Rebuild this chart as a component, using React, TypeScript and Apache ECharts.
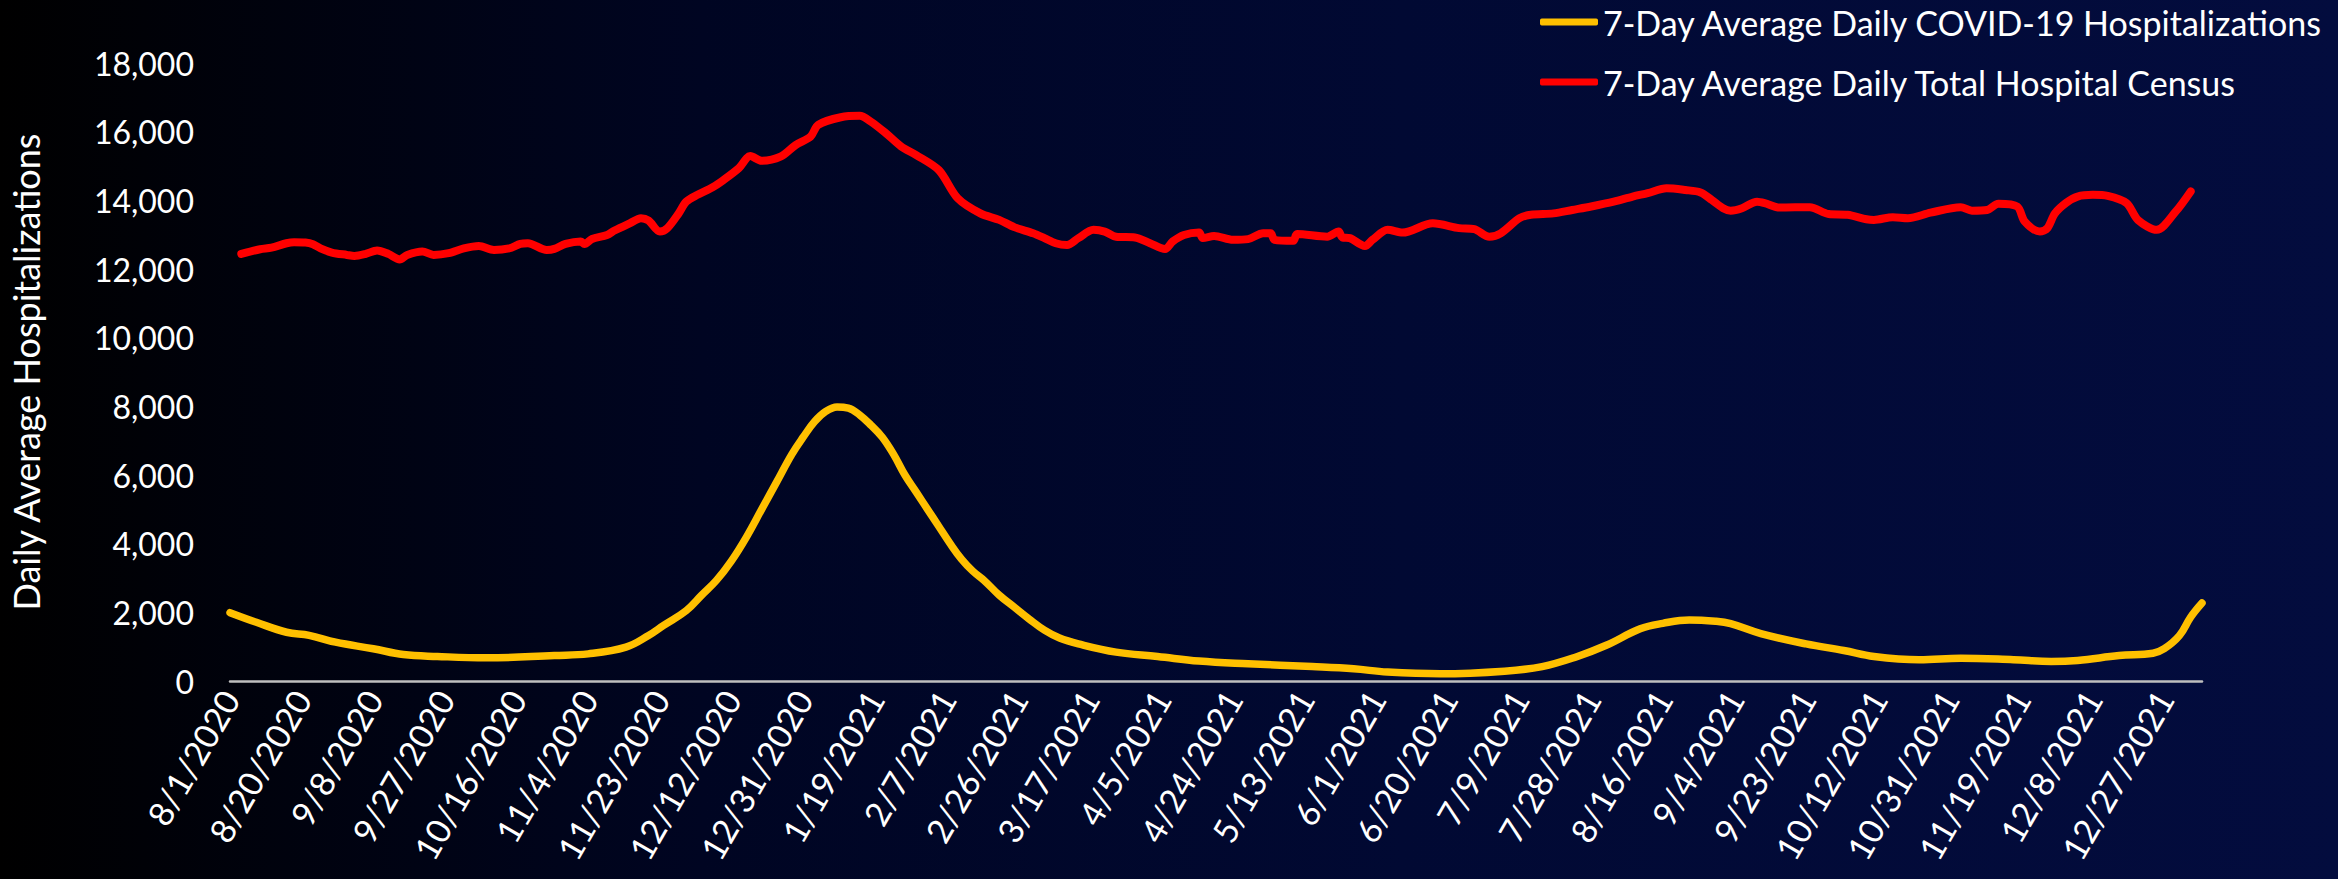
import React, { useEffect, useRef } from "react";
import * as echarts from "echarts";

// ---- Data ----
const startYear = 2020;
const startMonth = 8; // August
const startDay = 1;
const dayCount = 524; // 8/1/2020 .. 1/6/2022

const covidName = "7-Day Average Daily COVID-19 Hospitalizations";
const censusName = "7-Day Average Daily Total Hospital Census";

// [day index from 8/1/2020, value]
const covidReadings: [number, number][] = [
  [0, 1990], [7, 1710], [15, 1420], [21, 1330], [28, 1130], [38, 940], [46, 770],
  [55, 715], [68, 675], [86, 745], [95, 790], [105, 985], [111, 1325], [115, 1620],
  [121, 2050], [125, 2490], [129, 2930], [133, 3500], [137, 4200], [141, 5000],
  [145, 5800], [149, 6600], [152, 7100], [155, 7550], [158, 7850], [161, 7980],
  [164, 7950], [167, 7750], [170, 7450], [173, 7100], [176, 6600], [179, 6000],
  [182, 5500], [185, 5000], [188, 4500], [191, 4000], [194, 3550], [197, 3200],
  [200, 2930], [204, 2500], [208, 2150], [212, 1800], [216, 1480], [220, 1250],
  [225, 1080], [235, 840], [246, 715], [257, 580], [270, 500], [287, 420],
  [298, 355], [307, 260], [321, 210], [338, 285], [348, 420], [357, 700],
  [365, 1040], [374, 1520], [380, 1680], [387, 1780], [394, 1740], [398, 1670],
  [406, 1380], [418, 1080], [428, 890], [436, 715], [448, 620], [459, 665],
  [473, 620], [483, 570], [490, 600], [501, 740], [510, 810], [513, 940],
  [517, 1320], [520, 1860], [523, 2270],
];

const censusReadings: [number, number][] = [
  [3, 12440], [8, 12575], [11, 12620], [15, 12750], [17, 12780], [20, 12770],
  [22, 12720], [24, 12600], [27, 12480], [31, 12410], [33, 12380], [36, 12440],
  [39, 12540], [42, 12440], [45, 12280], [47, 12410], [51, 12510], [54, 12410],
  [58, 12460], [62, 12600], [66, 12670], [70, 12555], [74, 12600], [77, 12730],
  [79, 12750], [84, 12555], [86, 12585], [89, 12730], [93, 12800], [94, 12730],
  [96, 12875], [100, 12990], [102, 13120], [106, 13330], [109, 13480], [111, 13410],
  [114, 13090], [116, 13190], [119, 13620], [121, 13960], [124, 14160], [128, 14380],
  [131, 14600], [135, 14940], [138, 15290], [141, 15150], [146, 15270], [150, 15610],
  [154, 15860], [156, 16200], [162, 16420], [167, 16460], [170, 16290], [174, 15950],
  [178, 15570], [182, 15320], [188, 14880], [193, 14060], [199, 13620], [204, 13430],
  [208, 13220], [213, 13040], [216, 12900], [219, 12750], [222, 12700], [225, 12900],
  [229, 13140], [232, 13090], [235, 12940], [240, 12920], [244, 12750], [248, 12580],
  [250, 12800], [253, 12990], [257, 13060], [258, 12900], [261, 12960], [266, 12850],
  [270, 12870], [274, 13040], [276, 13040], [277, 12850], [282, 12820], [283, 13020],
  [291, 12940], [294, 13090], [295, 12920], [297, 12900], [301, 12670], [303, 12850],
  [307, 13140], [311, 13060], [319, 13330], [326, 13190], [330, 13160], [334, 12940],
  [337, 13040], [342, 13480], [345, 13580], [351, 13620], [356, 13720], [361, 13820],
  [367, 13960], [372, 14110], [376, 14210], [381, 14350], [386, 14300], [390, 14230],
  [393, 14010], [396, 13770], [398, 13700], [401, 13770], [405, 13960], [407, 13920],
  [411, 13790], [419, 13800], [424, 13600], [429, 13580], [434, 13450], [436, 13430],
  [441, 13510], [445, 13480], [451, 13640], [459, 13800], [462, 13700], [466, 13720],
  [469, 13900], [474, 13820], [476, 13380], [480, 13090], [482, 13190], [484, 13620],
  [487, 13930], [490, 14110], [494, 14160], [498, 14130], [503, 13920], [506, 13430],
  [511, 13140], [516, 13670], [520, 14260],
];

const yMin = 0;
const yMax = 18000;
const yStep = 2000;
const labelEvery = 19; // days between x-axis labels

function buildCategories(): string[] {
  const out: string[] = [];
  for (let i = 0; i < dayCount; i++) {
    const d = new Date(startYear, startMonth - 1, startDay + i);
    out.push(`${d.getMonth() + 1}/${d.getDate()}/${d.getFullYear()}`);
  }
  return out;
}

const FONT = "Lato, 'Noto Sans', sans-serif";

export default function App() {
  const ref = useRef<HTMLDivElement>(null);

  useEffect(() => {
    document.body.style.margin = "0";
    if (!ref.current) return;
    const chart = echarts.init(ref.current, undefined, { renderer: "svg" });
    const categories = buildCategories();

    chart.setOption({
      animation: false,
      backgroundColor: {
        type: "linear",
        x: 0,
        y: 0,
        x2: 1,
        y2: 0,
        colorStops: [
          { offset: 0, color: "#000000" },
          { offset: 0.3, color: "#000522" },
          { offset: 0.6, color: "#010933" },
          { offset: 1, color: "#030c3e" },
        ],
      },
      grid: { left: 228, right: 136, top: 63, bottom: 198 },
      legend: {
        orient: "vertical",
        left: 1540,
        top: 2,
        padding: 0,
        itemGap: 20,
        itemWidth: 58,
        itemHeight: 7,
        data: [
          { name: covidName, icon: "roundRect" },
          { name: censusName, icon: "roundRect" },
        ],
        textStyle: { color: "#ffffff", fontSize: 34, fontFamily: FONT, lineHeight: 40 },
      },
      xAxis: {
        type: "category",
        data: categories,
        boundaryGap: false,
        axisLine: { show: true, lineStyle: { color: "#bfbfbf", width: 2.5 } },
        axisTick: { show: false },
        splitLine: { show: false },
        axisLabel: {
          interval: labelEvery - 1,
          rotate: 60,
          color: "#ffffff",
          fontSize: 34,
          fontFamily: FONT,
          margin: 12,
        },
      },
      yAxis: {
        type: "value",
        min: yMin,
        max: yMax,
        interval: yStep,
        name: "Daily Average Hospitalizations",
        nameLocation: "middle",
        nameGap: 186,
        nameTextStyle: { color: "#ffffff", fontSize: 36, fontFamily: FONT },
        axisLine: { show: false },
        axisTick: { show: false },
        splitLine: { show: false },
        axisLabel: {
          color: "#ffffff",
          fontSize: 32,
          fontFamily: FONT,
          margin: 36,
          formatter: (v: number) => v.toLocaleString("en-US"),
        },
      },
      series: [
        {
          name: covidName,
          type: "line",
          data: covidReadings,
          smooth: 0.4,
          symbol: "none",
          color: "#ffc000",
          lineStyle: { color: "#ffc000", width: 7.5, cap: "round", join: "round" },
        },
        {
          name: censusName,
          type: "line",
          data: censusReadings,
          smooth: 0.3,
          symbol: "none",
          color: "#ff0000",
          lineStyle: { color: "#ff0000", width: 8, cap: "round", join: "round" },
        },
      ],
    });

    return () => chart.dispose();
  }, []);

  return (
    <div
      ref={ref}
      style={{ position: "fixed", left: 0, top: 0, width: 2338, height: 879 }}
    />
  );
}
